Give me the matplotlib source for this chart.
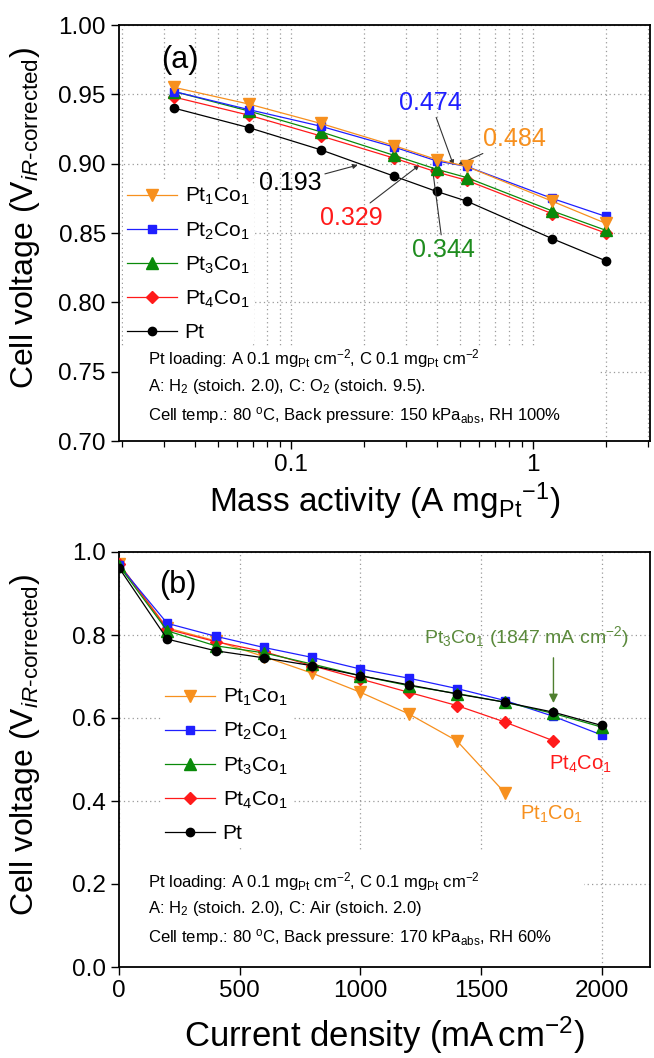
import matplotlib
matplotlib.use("Agg")
import matplotlib.pyplot as plt
from matplotlib.patches import Rectangle
from matplotlib.ticker import FixedLocator, NullFormatter, LogLocator

plt.rcParams['font.family'] = ['Liberation Sans', 'DejaVu Sans']
plt.rcParams['mathtext.fontset'] = 'custom'
plt.rcParams['mathtext.rm'] = 'Liberation Sans'
plt.rcParams['mathtext.it'] = 'Liberation Sans:italic'
plt.rcParams['mathtext.bf'] = 'Liberation Sans:bold'

# ---------------- data (a) ----------------
mass_activity = [0.033, 0.067, 0.133, 0.267, 0.4, 0.533, 1.2, 2.0]
va_pt1co1 = [0.955, 0.943, 0.929, 0.913, 0.903, 0.898, 0.873, 0.857]
va_pt2co1 = [0.952, 0.939, 0.927, 0.912, 0.902, 0.898, 0.875, 0.862]
va_pt3co1 = [0.952, 0.938, 0.923, 0.906, 0.896, 0.890, 0.866, 0.852]
va_pt4co1 = [0.948, 0.935, 0.920, 0.904, 0.894, 0.888, 0.864, 0.850]
va_pt = [0.940, 0.926, 0.910, 0.891, 0.880, 0.873, 0.846, 0.830]

# ---------------- data (b) ----------------
current = [0, 200, 400, 600, 800, 1000, 1200, 1400, 1600, 1800, 2000]
vb_pt1co1 = [0.972, 0.817, 0.786, 0.748, 0.708, 0.662, 0.610, 0.545, 0.419]
vb_pt2co1 = [0.968, 0.828, 0.797, 0.770, 0.746, 0.718, 0.696, 0.671, 0.642, 0.604, 0.559]
vb_pt3co1 = [0.967, 0.810, 0.774, 0.757, 0.730, 0.702, 0.678, 0.659, 0.638, 0.611, 0.578]
vb_pt4co1 = [0.972, 0.814, 0.784, 0.760, 0.726, 0.694, 0.662, 0.630, 0.590, 0.545]
vb_pt = [0.962, 0.790, 0.762, 0.745, 0.726, 0.702, 0.680, 0.658, 0.638, 0.614, 0.582]

labels = ['Pt$_1$Co$_1$', 'Pt$_2$Co$_1$', 'Pt$_3$Co$_1$', 'Pt$_4$Co$_1$', 'Pt']
colors = ['#f7901e', '#1f1fff', '#0a8a0a', '#ff1a1a', '#000000']
markers = ['v', 's', '^', 'D', 'o']
msizes = [8, 6, 8, 6, 6]

W, H = 654, 1058
fig = plt.figure(figsize=(W / 100, H / 100), dpi=100)

def box(l, r, t, b):
    return [l / W, 1 - b / H, (r - l) / W, (b - t) / H]

ax1 = fig.add_axes(box(119, 650, 25, 441))
ax2 = fig.add_axes(box(119, 650, 552, 967))

grid_kw = dict(color='#9a9a9a', linestyle=(0, (1, 2.5)), linewidth=0.9)
ylab = 'Cell voltage (V$_{\\mathit{iR}\\text{-corrected}}$)'

# ---------- panel (a) ----------
series_a = [va_pt1co1, va_pt2co1, va_pt3co1, va_pt4co1, va_pt]
handles = [None] * 5
for i in [4, 3, 2, 1, 0]:
    h, = ax1.plot(mass_activity, series_a[i], color=colors[i], marker=markers[i],
                  ms=msizes[i], lw=0.9, label=labels[i], zorder=3 + (4 - i) * 0.1)
    handles[i] = h
ax1.set_xscale('log')
ax1.set_xlim(0.0195, 3.05)
ax1.set_ylim(0.70, 1.00)
ax1.set_yticks([0.70, 0.75, 0.80, 0.85, 0.90, 0.95, 1.00])
ax1.set_yticklabels(['0.70', '0.75', '0.80', '0.85', '0.90', '0.95', '1.00'])
ax1.xaxis.set_major_locator(FixedLocator([0.1, 1]))
ax1.set_xticklabels(['0.1', '1'])
ax1.xaxis.set_minor_locator(LogLocator(base=10, subs=range(2, 10)))
ax1.xaxis.set_minor_formatter(NullFormatter())
ax1.set_axisbelow(True)
ax1.grid(True, which='both', axis='x', **grid_kw)
ax1.grid(True, which='major', axis='y', **grid_kw)
ax1.set_xlabel('Mass activity (A mg$_{\\mathrm{Pt}}$$^{-1}$)', fontsize=24, labelpad=3)
ax1.set_ylabel(ylab, fontsize=23, labelpad=8)
ax1.yaxis.set_label_coords(-0.145, 0.535)
ax1.text(0.115, 0.915, '(a)', transform=ax1.transAxes, fontsize=22, ha='center', va='center')

ax1.add_patch(Rectangle((0.0, 0.0), 0.905, 0.225, transform=ax1.transAxes,
                        facecolor='white', edgecolor='none', zorder=1))
small = 12
ax1.text(0.055, 0.198, 'Pt loading: A 0.1 mg$_{\\mathrm{Pt}}$ cm$^{-2}$, C 0.1 mg$_{\\mathrm{Pt}}$ cm$^{-2}$',
         transform=ax1.transAxes, fontsize=small, va='center', zorder=4)
ax1.text(0.055, 0.13, 'A: H$_2$ (stoich. 2.0), C: O$_2$ (stoich. 9.5).',
         transform=ax1.transAxes, fontsize=small, va='center', zorder=4)
ax1.text(0.055, 0.062, 'Cell temp.: 80 $^{\\mathrm{o}}$C, Back pressure: 150 kPa$_{\\mathrm{abs}}$, RH 100%',
         transform=ax1.transAxes, fontsize=small, va='center', zorder=4)

leg1 = ax1.legend(handles=handles, loc='upper left', bbox_to_anchor=(-0.012, 0.648),
                  fontsize=15, frameon=True, facecolor='white', edgecolor='none',
                  framealpha=1, handlelength=2.4, handletextpad=0.35, labelspacing=0.62,
                  borderpad=0.2)

arrow_kw = dict(arrowstyle='-|>', color='#333333', lw=0.8, mutation_scale=7,
                shrinkA=0, shrinkB=0)
ann_fs = 18
ax1.annotate('0.193', xy=(0.189, 0.899), xytext=(0.100, 0.886), color='black',
             fontsize=ann_fs, ha='center', va='center', arrowprops=arrow_kw)
ax1.annotate('0.329', xy=(0.34, 0.899), xytext=(0.177, 0.861), color='#ff1a1a',
             fontsize=ann_fs, ha='center', va='center', arrowprops=arrow_kw)
ax1.annotate('0.344', xy=(0.384, 0.898), xytext=(0.426, 0.838), color='#1e8c1e',
             fontsize=ann_fs, ha='center', va='center', arrowprops=arrow_kw)
ax1.annotate('0.474', xy=(0.47, 0.899), xytext=(0.379, 0.944), color='#1f1fff',
             fontsize=ann_fs, ha='center', va='center', arrowprops=arrow_kw)
ax1.annotate('0.484', xy=(0.49, 0.899), xytext=(0.843, 0.918), color='#f7901e',
             fontsize=ann_fs, ha='center', va='center', arrowprops=arrow_kw)

# ---------- panel (b) ----------
series_b = [vb_pt1co1, vb_pt2co1, vb_pt3co1, vb_pt4co1, vb_pt]
handles_b = [None] * 5
for i in [0, 3, 1, 2, 4]:
    yv = series_b[i]
    h, = ax2.plot(current[:len(yv)], yv, color=colors[i], marker=markers[i],
                  ms=msizes[i], lw=0.9, label=labels[i], zorder=3)
    handles_b[i] = h
ax2.set_xlim(0, 2200)
ax2.set_ylim(0.0, 1.0)
ax2.set_xticks([0, 500, 1000, 1500, 2000])
ax2.set_yticks([0.0, 0.2, 0.4, 0.6, 0.8, 1.0])
ax2.set_yticklabels(['0.0', '0.2', '0.4', '0.6', '0.8', '1.0'])
ax2.set_axisbelow(True)
ax2.grid(True, which='major', **grid_kw)
ax2.set_xlabel('Current density (mA$\\,$cm$^{-2}$)', fontsize=25, labelpad=9)
ax2.set_ylabel(ylab, fontsize=23, labelpad=8)
ax2.yaxis.set_label_coords(-0.145, 0.535)
ax2.text(0.11, 0.92, '(b)', transform=ax2.transAxes, fontsize=22, ha='center', va='center')

ax2.add_patch(Rectangle((0.0, 0.0), 0.875, 0.28, transform=ax2.transAxes,
                        facecolor='white', edgecolor='none', zorder=1))
ax2.text(0.055, 0.205, 'Pt loading: A 0.1 mg$_{\\mathrm{Pt}}$ cm$^{-2}$, C 0.1 mg$_{\\mathrm{Pt}}$ cm$^{-2}$',
         transform=ax2.transAxes, fontsize=small, va='center', zorder=4)
ax2.text(0.055, 0.14, 'A: H$_2$ (stoich. 2.0), C: Air (stoich. 2.0)',
         transform=ax2.transAxes, fontsize=small, va='center', zorder=4)
ax2.text(0.055, 0.072, 'Cell temp.: 80 $^{\\mathrm{o}}$C, Back pressure: 170 kPa$_{\\mathrm{abs}}$, RH 60%',
         transform=ax2.transAxes, fontsize=small, va='center', zorder=4)

leg2 = ax2.legend(handles=handles_b, loc='upper left', bbox_to_anchor=(0.06, 0.71),
                  fontsize=15, frameon=True, facecolor='white', edgecolor='none',
                  framealpha=1, handlelength=2.4, handletextpad=0.35, labelspacing=0.62,
                  borderpad=0.2)

ax2.text(1686, 0.795, 'Pt$_3$Co$_1$ (1847 mA cm$^{-2}$)',
         color='#5b8a3c', fontsize=14, ha='center', va='center')
ax2.annotate('', xy=(1800, 0.636), xytext=(1800, 0.745),
             arrowprops=dict(arrowstyle='-|>', color='#4f7f2f', lw=1.0, mutation_scale=13,
                             shrinkA=0, shrinkB=0))
ax2.text(1911, 0.488, 'Pt$_4$Co$_1$', color='#ff1a1a', fontsize=14.5, ha='center', va='center')
ax2.text(1790, 0.369, 'Pt$_1$Co$_1$', color='#f7901e', fontsize=14.5, ha='center', va='center')

for ax in (ax1, ax2):
    ax.tick_params(axis='both', which='major', labelsize=17.5, direction='out',
                   length=6, width=1.0, top=False, right=False)
    ax.tick_params(axis='x', which='minor', direction='out', length=4, width=0.9,
                   top=False)
    for s in ax.spines.values():
        s.set_linewidth(1.3)

fig.savefig('out.png', dpi=100)
